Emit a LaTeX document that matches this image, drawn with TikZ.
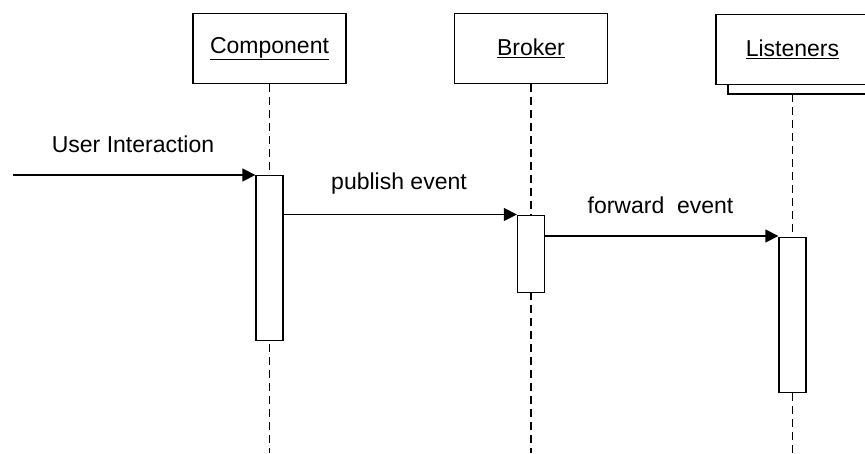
\documentclass[tikz,border=0pt]{standalone}
\usepackage{fontspec}
\setmainfont{Liberation Sans}
\usetikzlibrary{arrows.meta}
\begin{document}
\begin{tikzpicture}[x=1pt,y=-1pt,
  objbox/.style={draw, line width=1.3pt, fill=white, minimum width=153pt, minimum height=70pt, inner sep=0pt, font=\fontsize{23}{27}\selectfont},
  actbox/.style={draw, line width=1.3pt, fill=white, minimum width=27pt, inner sep=0pt, anchor=north},
  life/.style={line width=1.3pt, dash pattern=on 8pt off 5pt},
  msg/.style={line width=1.3pt, -{Triangle[length=13pt,width=13pt]}},
  lbl/.style={font=\fontsize{23}{27}\selectfont, inner sep=0pt}
]
\useasboundingbox (0,0) rectangle (865,453);
% shadow of Listeners
\draw[line width=1.3pt, fill=white] (728,40) rectangle (885,94);
\node[objbox] (comp) at (269.5,48.5) {\underline{Component}};
\node[objbox] (brok) at (531,48.5) {\underline{Broker}};
\node[objbox] (list) at (792.5,49.5) {\underline{Listeners}};
\coordinate (listbot) at (792.5,94);
% lifelines
\coordinate (compend) at (269.5,453);
\coordinate (brokend) at (531,453);
\coordinate (listend) at (792.5,453);
\draw[life] (comp.south) -- (compend);
\draw[life] (brok.south) -- (brokend);
\draw[life] (listbot) -- (listend);
% activations
\node[actbox, minimum height=165pt] (act1) at (269.5,175) {};
\node[actbox, minimum height=77pt] (act2) at (531,214.5) {};
\node[actbox, minimum height=155pt] (act3) at (792.5,237) {};
% messages
\coordinate (start) at (13,175);
\draw[msg] (start) -- (act1.north west);
\draw[msg] (act1.east |- 0,214.5) -- (act2.north west);
\draw[msg] (act2.east |- 0,236) -- (act3.west |- 0,236);
% labels
\node[lbl] (l1) at (133,144) {User Interaction};
\node[lbl] (l2) at (399,184) {publish event};
\node[lbl] (l3) at (660.5,205) {forward\ \ event};
\end{tikzpicture}
\end{document}
